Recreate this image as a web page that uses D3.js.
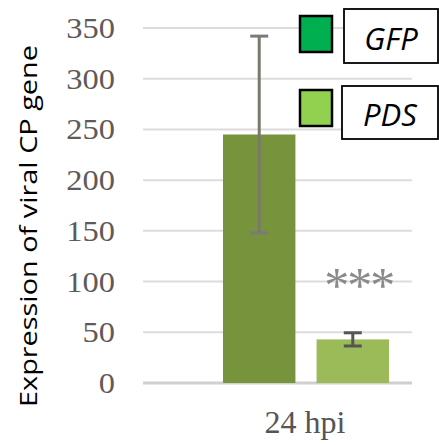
<!DOCTYPE html>
<html><head><meta charset="utf-8">
<script src="https://cdn.jsdelivr.net/npm/d3@7"></script>
<style>body{margin:0;background:#fff}svg{display:block}</style>
</head><body>
<script>
const categories = ["24 hpi"];
const seriesNames = ["GFP", "PDS"];
const means = [245, 43];
const errors = [97, 6.5];
const yTicks = [0, 50, 100, 150, 200, 250, 300, 350];
const significance = ["***"];
const barColors = ["#77933C", "#9BBB59"];
const legendColors = ["#00B050", "#92D050"];

const W = 439, H = 445;
const svg = d3.select("body").append("svg").attr("width", W).attr("height", H);

const y = d3.scaleLinear().domain([0, 350]).range([383, 28]);
const x1 = d3.scaleBand().domain(seriesNames).range([223, 389]).paddingInner(0.226).paddingOuter(0);

// gridlines
svg.append("g").selectAll("line").data(yTicks).join("line")
  .attr("x1", 143).attr("x2", 412)
  .attr("y1", d => y(d)).attr("y2", d => y(d))
  .attr("stroke", d => d === 0 ? "#d0d0d0" : "#dcdcdc")
  .attr("stroke-width", d => d === 0 ? 3 : 2);

// y tick labels
svg.append("g").selectAll("text").data(yTicks).join("text")
  .attr("transform", d => `translate(115,${y(d) + 10}) scale(1.12,1)`)
  .attr("text-anchor", "end")
  .attr("font-family", "Liberation Serif, serif")
  .attr("font-size", 29).attr("fill", "#5f5a5a")
  .text(d => d);

// bars
svg.append("g").selectAll("rect").data(seriesNames).join("rect")
  .attr("x", d => x1(d)).attr("width", x1.bandwidth())
  .attr("y", (d, i) => y(means[i])).attr("height", (d, i) => y(0) - y(means[i]))
  .attr("fill", (d, i) => barColors[i]);

// error bars
const eb = svg.append("g").selectAll("g.err").data(seriesNames).join("g").attr("class", "err");
eb.append("line")
  .attr("x1", d => x1(d) + x1.bandwidth() / 2).attr("x2", d => x1(d) + x1.bandwidth() / 2)
  .attr("y1", (d, i) => y(means[i] + errors[i])).attr("y2", (d, i) => y(means[i] - errors[i]))
  .attr("stroke", (d, i) => i === 0 ? "#7a7a6a" : "#555")
  .attr("stroke-width", 3);
eb.selectAll("line.cap").data((d, i) => [[d, means[i] + errors[i], i], [d, means[i] - errors[i], i]]).join("line")
  .attr("class", "cap")
  .attr("x1", d => x1(d[0]) + x1.bandwidth() / 2 - 9).attr("x2", d => x1(d[0]) + x1.bandwidth() / 2 + 9)
  .attr("y1", d => y(d[1])).attr("y2", d => y(d[1]))
  .attr("stroke", d => d[2] === 0 ? "#7a7a7a" : "#555")
  .attr("stroke-width", 3);

// significance
svg.append("text")
  .attr("x", x1("PDS") + x1.bandwidth() / 2 + 6)
  .attr("y", y(100) + 20)
  .attr("text-anchor", "middle")
  .attr("font-family", "Liberation Serif, serif").attr("font-size", 50)
  .attr("letter-spacing", -2)
  .attr("fill", "#8a8a8a").text(significance[0]);

// x label
svg.append("text")
  .attr("x", 305).attr("y", 433).attr("text-anchor", "middle")
  .attr("font-family", "Liberation Serif, serif").attr("font-size", 32)
  .attr("fill", "#555").text(categories[0]);

// y title
svg.append("text")
  .attr("transform", "translate(37,226) rotate(-90)")
  .attr("text-anchor", "middle")
  .attr("font-family", "Open Sans, Noto Sans, sans-serif").attr("font-size", 24)
  .attr("textLength", 362).attr("lengthAdjust", "spacingAndGlyphs")
  .attr("fill", "#000").text("Expression of viral CP gene");

// legend
const legY = [15, 89];
const boxY = [[9, 63], [86, 139]];
const boxX = [[344, 438], [342, 438]];
const baseY = [50, 126];
const lg = svg.append("g").selectAll("g").data(seriesNames).join("g");
lg.append("rect").attr("x", 300).attr("y", (d, i) => legY[i] + 1).attr("width", 32).attr("height", 36)
  .attr("fill", (d, i) => legendColors[i]).attr("stroke", "#000").attr("stroke-width", 2.5);
lg.append("rect").attr("x", (d, i) => boxX[i][0]).attr("y", (d, i) => boxY[i][0])
  .attr("width", (d, i) => boxX[i][1] - boxX[i][0]).attr("height", (d, i) => boxY[i][1] - boxY[i][0])
  .attr("fill", "#fff").attr("stroke", "#000").attr("stroke-width", 1.8);
lg.append("text").attr("x", (d, i) => (boxX[i][0] + boxX[i][1]) / 2).attr("y", (d, i) => baseY[i])
  .attr("text-anchor", "middle").attr("font-family", "Open Sans, sans-serif").attr("font-style", "italic")
  .attr("font-size", 31).attr("fill", "#000").text(d => d);
</script>
</body></html>
